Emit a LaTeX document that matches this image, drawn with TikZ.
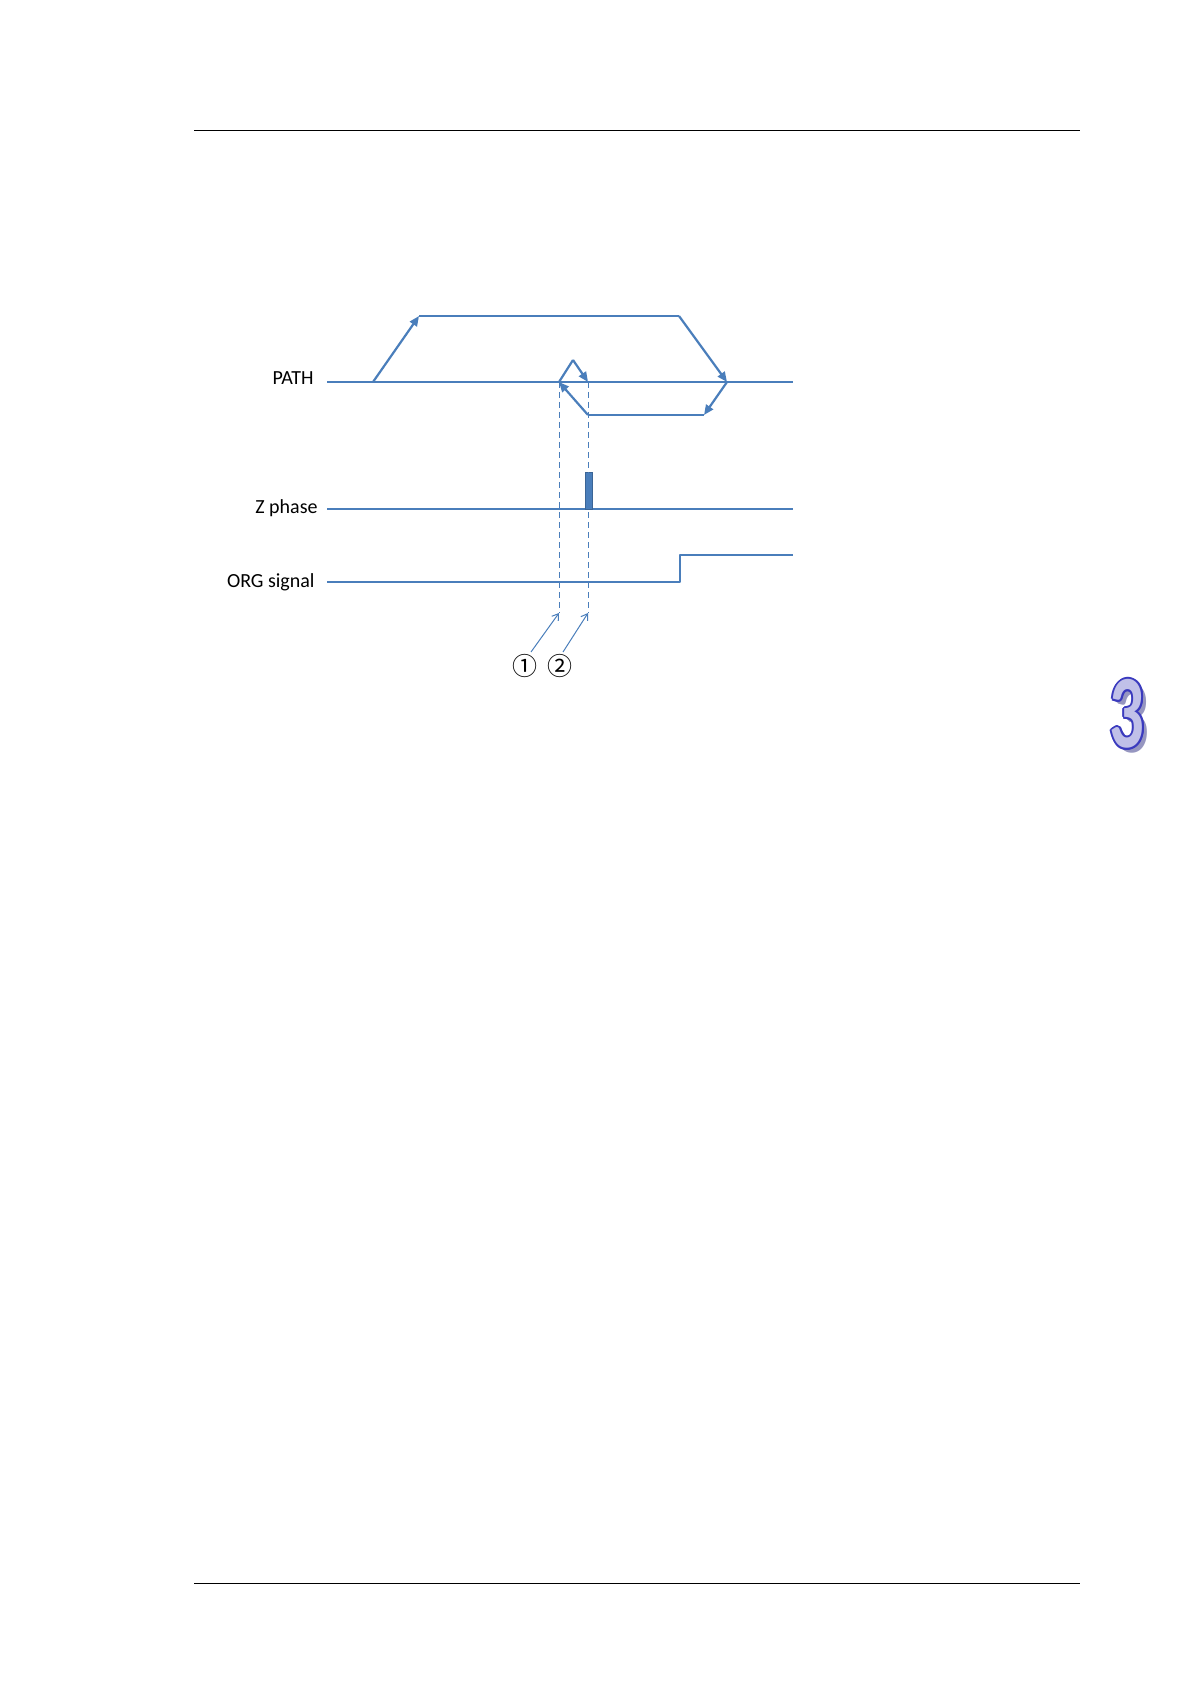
\documentclass[tikz,border=0pt]{standalone}
\usepackage{fontspec}
\setmainfont{Carlito}
\newfontfamily\symfont{Noto Sans CJK SC}
\usetikzlibrary{arrows.meta}
\definecolor{wave}{RGB}{74,126,187}
\definecolor{tabblue}{RGB}{58,58,190}
\definecolor{tabfill}{RGB}{192,192,232}
\definecolor{tabshade}{RGB}{150,150,192}

\begin{document}
\begin{tikzpicture}[x=0.5pt, y=-0.5pt,
    axis/.style={wave, line width=0.6pt},
    signal/.style={wave, line width=1.1pt, line join=round},
    move/.style={signal, -{Triangle[length=5pt, width=4.2pt]}},
    marker/.style={wave, line width=0.5pt, dash pattern=on 3pt off 2pt},
    signame/.style={anchor=east, inner sep=0pt, font=\fontsize{10}{12}\selectfont},
    callout/.style={inner sep=0pt, font=\symfont\fontsize{12.5}{13}\selectfont},
    pointer/.style={wave, line width=0.5pt, -{Straight Barb[length=3pt, width=4pt]}},
    chapter/.style={inner sep=0pt, font=\fontsize{52}{52}\selectfont\bfseries}
  ]
  \useasboundingbox (0,0) rectangle (1191,1684);

  % page rules
  \coordinate (topl) at (194,131);
  \coordinate (topr) at (1080,131);
  \coordinate (botl) at (194,1583);
  \coordinate (botr) at (1080,1583);
  \draw[line width=0.5pt] (topl) -- (topr);
  \draw[line width=0.5pt] (botl) -- (botr);

  % signal names
  \node[signame] (pathname) at (314,378) {PATH};
  \node[signame] (zname) at (318,508) {Z phase};
  \node[signame] (orgname) at (315,582) {ORG signal};

  % axes
  \coordinate (pa) at (327,382);
  \coordinate (pb) at (793,382);
  \coordinate (za) at (327,509);
  \coordinate (zb) at (793,509);
  \draw[axis] (pa) -- (pb);
  \draw[axis] (za) -- (zb);

  % ORG level
  \coordinate (oa) at (327,582);
  \coordinate (ob) at (680,582);
  \coordinate (oc) at (680,555);
  \coordinate (od) at (793,555);
  \draw[signal] (oa) -- (ob) -- (oc) -- (od);

  % homing path
  \coordinate (p0) at (373,382);
  \coordinate (p1) at (419,316);
  \coordinate (p2) at (679,316);
  \coordinate (p3) at (727,382);
  \coordinate (p4) at (704,415);
  \coordinate (p5) at (588,415);
  \coordinate (p6) at (559,382);
  \coordinate (p7) at (573,360);
  \coordinate (p8) at (588,382);
  \draw[move] (p0) -- (p1);
  \draw[signal] (p1) -- (p2);
  \draw[move] (p2) -- (p3);
  \draw[move] (p3) -- (p4);
  \draw[signal] (p4) -- (p5);
  \draw[move] (p5) -- (p6);
  \draw[signal] (p6) -- (p7);
  \draw[move] (p7) -- (p8);

  % Z pulse
  \draw[wave!80!black, fill=wave, line width=0.5pt] (585,472) rectangle (592,509);

  % markers
  \coordinate (m1) at (559,613);
  \coordinate (m2) at (588,613);
  \draw[marker] (p6) -- (m1);
  \draw[marker] (p8) -- (m2);

  \node[callout] (c1) at (525,666) {①};
  \node[callout] (c2) at (560,666) {②};
  \coordinate (t1) at (531,652);
  \coordinate (t2) at (563,652);
  \draw[pointer] (t1) -- (m1);
  \draw[pointer] (t2) -- (m2);

  % chapter tab
  \foreach \s in {1,...,4}
    \node[chapter, text=tabshade, shift={(\s*0.6pt,-\s*0.6pt)}] (chaps\s) at (1127,714) {\scalebox{0.66}[1]{3}};
  \foreach \a in {0,30,...,330}
    \node[chapter, text=tabblue, shift={(\a:0.9pt)}] (chapo\a) at (1127,714) {\scalebox{0.66}[1]{3}};
  \node[chapter, text=tabfill] (chap) at (1127,714) {\scalebox{0.66}[1]{3}};
\end{tikzpicture}
\end{document}
